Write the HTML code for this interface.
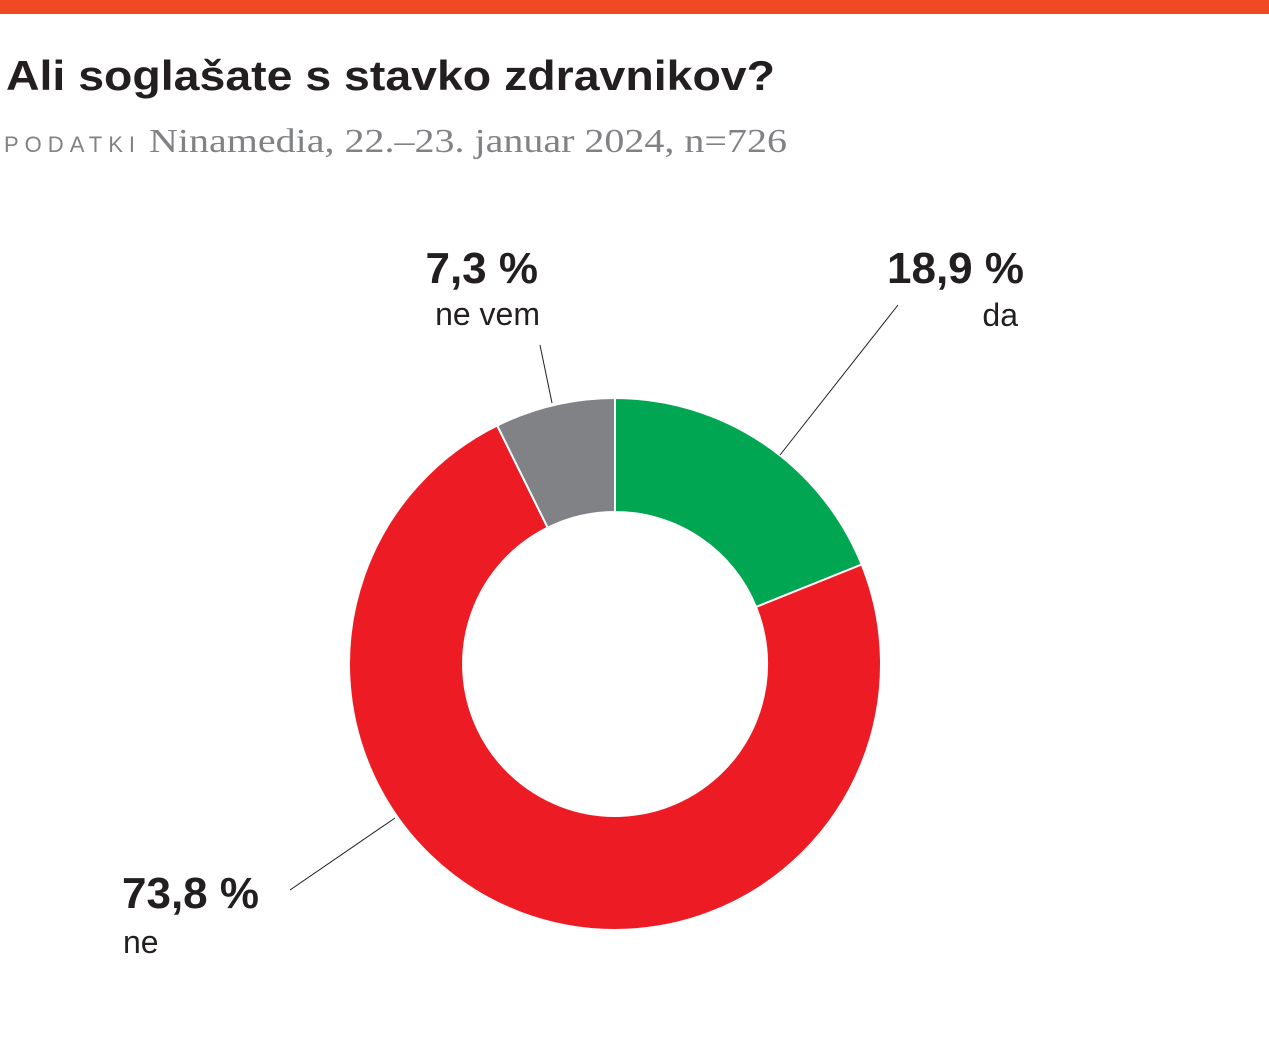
<!DOCTYPE html>
<html><head><meta charset="utf-8"><style>
html,body{margin:0;padding:0;background:#fff;}
body{width:1269px;height:1037px;overflow:hidden;}
</style></head><body>
<svg width="1269" height="1037" viewBox="0 0 1269 1037" xmlns="http://www.w3.org/2000/svg">
<rect x="0" y="0" width="1269" height="14" fill="#f04923"/>
<text x="6" y="90" textLength="769" lengthAdjust="spacingAndGlyphs" font-family="'Liberation Sans',sans-serif" font-weight="bold" font-size="42" fill="#231f20">Ali soglašate s stavko zdravnikov?</text>
<text x="4" y="152" textLength="131" lengthAdjust="spacing" font-family="'Liberation Sans',sans-serif" font-size="22" fill="#808285">PODATKI</text>
<text x="149" y="152" textLength="638" lengthAdjust="spacingAndGlyphs" font-family="'Liberation Serif',serif" font-size="34" fill="#808285">Ninamedia, 22.–23. januar 2024, n=726</text>
<g stroke="#fff" stroke-width="2" stroke-linejoin="round">
<path d="M615,398 A266,266 0 0 1 861.7,564.5 L756,607 A152,152 0 0 0 615,512 Z" fill="#00a651"/>
<path d="M861.7,564.5 A266,266 0 1 1 497.2,425.5 L547.7,527.7 A152,152 0 1 0 756,607 Z" fill="#ed1c24"/>
<path d="M497.2,425.5 A266,266 0 0 1 615,398 L615,512 A152,152 0 0 0 547.7,527.7 Z" fill="#808285"/>
</g>
<g stroke="#231f20" stroke-width="1">
<line x1="898" y1="305" x2="780" y2="455"/>
<line x1="540" y1="345" x2="552" y2="403"/>
<line x1="290" y1="890" x2="395" y2="818"/>
</g>
<g font-family="'Liberation Sans',sans-serif" fill="#231f20">
<text x="1024" y="283" text-anchor="end" font-weight="bold" font-size="44">18,9 %</text>
<text x="1018" y="326" text-anchor="end" font-size="32">da</text>
<text x="538" y="283" text-anchor="end" font-weight="bold" font-size="44">7,3 %</text>
<text x="540" y="325" text-anchor="end" font-size="32">ne vem</text>
<text x="122" y="908" font-weight="bold" font-size="44">73,8 %</text>
<text x="123" y="953" font-size="32">ne</text>
</g>
</svg>
</body></html>
